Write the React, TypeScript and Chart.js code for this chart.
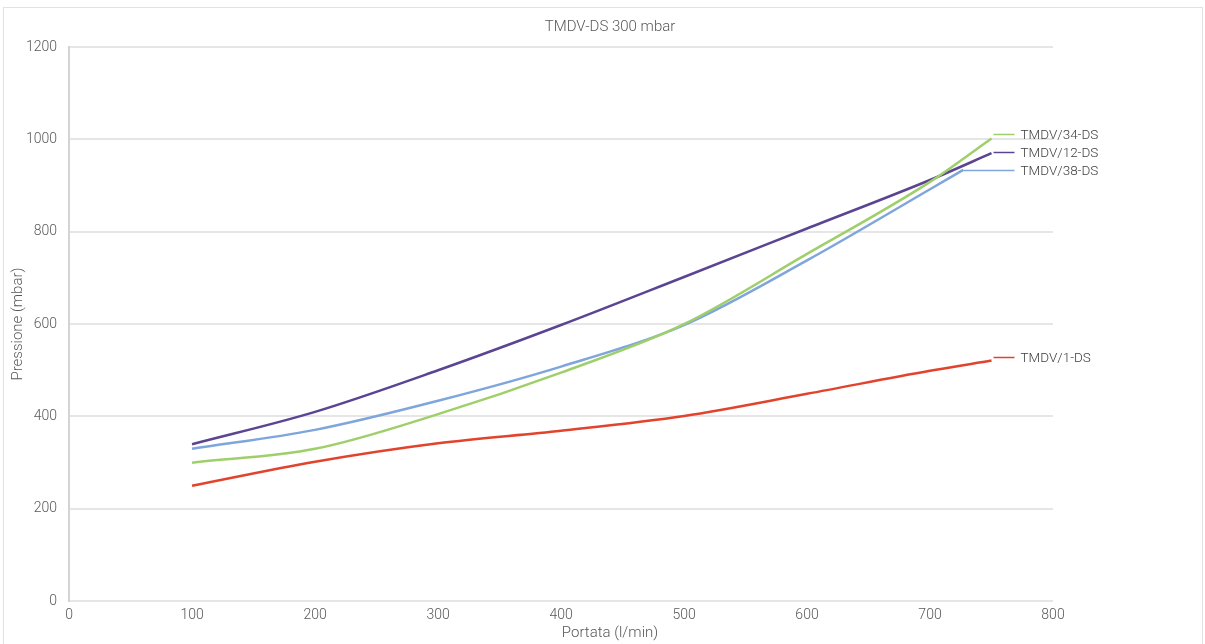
import React, { useEffect, useRef } from "react";
import { Chart, registerables } from "chart.js";

Chart.register(...registerables);

const titleText = "TMDV-DS 300 mbar";
const xTitle = "Portata (l/min)";
const yTitle = "Pressione (mbar)";

const flow = [100, 200, 300, 400, 500, 600, 700, 750];
const flow38 = [100, 200, 300, 400, 500, 600, 700, 727];
const seriesNames = ["TMDV/34-DS", "TMDV/12-DS", "TMDV/38-DS", "TMDV/1-DS"];
const tmdv34 = [300, 330, 405, 495, 600, 752, 908, 1002];
const tmdv12 = [340, 410, 500, 598, 702, 807, 912, 970];
const tmdv38 = [330, 371, 434, 508, 598, 738, 892, 934];
const tmdv1 = [250, 302, 342, 369, 401, 449, 499, 521];
const seriesColors = ["#9fcf6a", "#5b4492", "#7ea6dc", "#e2432d"];

const TICK_FONT = { family: "Roboto", size: 14, weight: "300" as any };

const extraText = {
  id: "extraText",
  afterDraw(chart: any) {
    const ctx = chart.ctx;
    ctx.save();
    ctx.fillStyle = "#595959";
    ctx.font = "300 15px Roboto";
    ctx.textAlign = "center";
    ctx.textBaseline = "middle";
    ctx.fillText(titleText, 610, 27);
    ctx.fillText(xTitle, 610, 633);
    ctx.translate(18, (chart.chartArea.top + chart.chartArea.bottom) / 2);
    ctx.rotate(-Math.PI / 2);
    ctx.fillText(yTitle, 0, 0);
    ctx.restore();
  },
};

const endLabels = {
  id: "endLabels",
  afterDatasetsDraw(chart: any) {
    const ctx = chart.ctx;
    const items: { y: number; x: number; label: string; color: string }[] = [];
    chart.data.datasets.forEach((ds: any, i: number) => {
      const meta = chart.getDatasetMeta(i);
      const last = meta.data[meta.data.length - 1];
      items.push({ x: last.x, y: last.y, label: ds.label, color: ds.borderColor });
    });
    const maxX = Math.max(...items.map((it) => it.x));
    const sorted = [...items].sort((a, b) => a.y - b.y);
    const gap = 18;
    for (let k = 1; k < sorted.length; k++) {
      if (sorted[k].y - sorted[k - 1].y < gap) sorted[k].y = sorted[k - 1].y + gap;
    }
    ctx.save();
    ctx.font = "300 13.5px Roboto";
    ctx.textBaseline = "middle";
    ctx.textAlign = "left";
    sorted.forEach((it) => {
      const y = Math.round(it.y) - 3.5;
      ctx.strokeStyle = it.color;
      ctx.lineWidth = 1.5;
      ctx.beginPath();
      ctx.moveTo(it.x + (it.x < maxX ? 0 : 2), y);
      ctx.lineTo(maxX + 23, y);
      ctx.stroke();
      ctx.fillStyle = "#404040";
      ctx.fillText(it.label, maxX + 29, y + 1);
    });
    ctx.restore();
  },
};

export default function App() {
  const ref = useRef<HTMLCanvasElement>(null);
  useEffect(() => {
    document.body.style.margin = "0";
    const mk = (i: number, xs: number[], data: number[]) => ({
      label: seriesNames[i],
      data: xs.map((x, k) => ({ x, y: data[k] })),
      borderColor: seriesColors[i],
      backgroundColor: seriesColors[i],
      borderWidth: 2.5,
      pointRadius: 0,
      tension: 0.4,
      cubicInterpolationMode: "monotone" as const,
    });
    const chart = new Chart(ref.current!, {
      type: "line",
      data: {
        datasets: [mk(0, flow, tmdv34), mk(1, flow, tmdv12), mk(2, flow38, tmdv38), mk(3, flow, tmdv1)],
      },
      options: {
        animation: false,
        responsive: false,
        layout: { padding: { left: 14, right: 152, top: 47, bottom: 22 } },
        plugins: {
          legend: { display: false },
          tooltip: { enabled: false },
          title: { display: false },
        },
        scales: {
          x: {
            type: "linear",
            min: 0,
            max: 800,
            ticks: { stepSize: 100, color: "#595959", font: TICK_FONT, padding: -2, callback: (v: any) => String(v) },
            grid: { display: false },
            border: { display: false },
          },
          y: {
            min: 0,
            max: 1200,
            ticks: { stepSize: 200, color: "#595959", font: TICK_FONT, padding: 12, callback: (v: any) => String(v) },
            grid: { color: "#e6e6e6", lineWidth: 2, drawTicks: false },
            border: { display: true, color: "#d4d4d4", width: 2 },
          },
        },
      },
      plugins: [endLabels, extraText],
    });
    return () => chart.destroy();
  }, []);
  return (
    <div style={{ position: "absolute", left: 0, top: 0, width: 1205, height: 644, background: "#fff" }}>
      <div style={{ position: "absolute", left: 3, top: 7, width: 1198, height: 636, borderTop: "1px solid #e2e2e2", borderLeft: "1px solid #e2e2e2", borderRight: "1px solid #e2e2e2" }} />
      <canvas ref={ref} width={1205} height={644} style={{ position: "absolute", left: 0, top: 0 }} />
    </div>
  );
}
